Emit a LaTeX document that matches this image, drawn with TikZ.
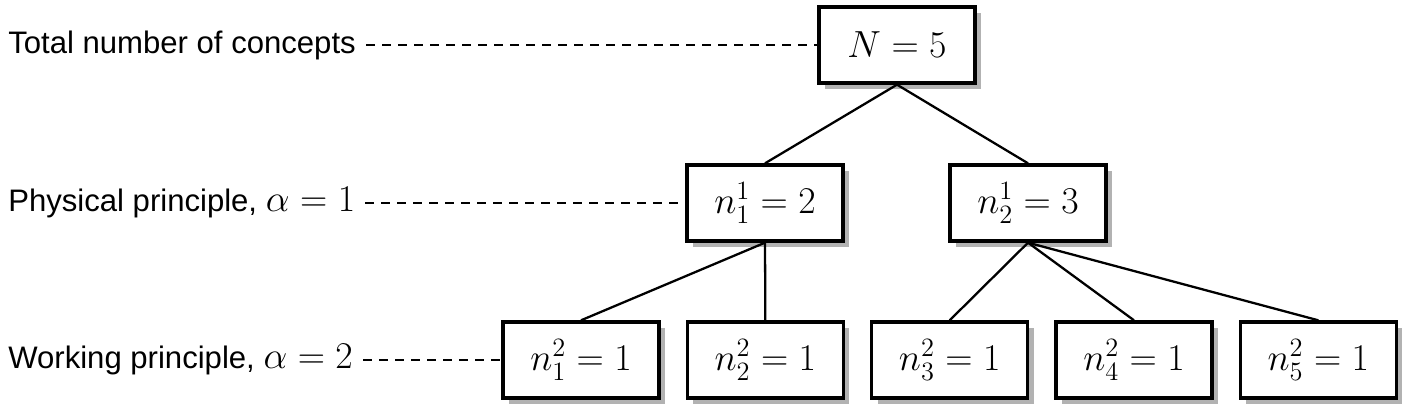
\documentclass[tikz,border=0pt]{standalone}
\usepackage{fix-cm}
\usepackage[no-math]{fontspec}
\setmainfont{Liberation Sans}[Scale=0.823]
\usetikzlibrary{positioning,shadows}

\begin{document}
\begin{tikzpicture}[
    font=\fontsize{21.5}{25}\selectfont,
    node distance=1.58cm and 0.5cm,
    box/.style={rectangle, draw=black, fill=white, line width=1.9pt, minimum width=3.12cm, minimum height=1.52cm, drop shadow={shadow xshift=0.12cm, shadow yshift=-0.12cm, fill=black!30, opacity=1}},
    level/.style={anchor=west, inner sep=0.2cm},
    guide/.style={draw=black, line width=1.1pt, dash pattern=on 0.18cm off 0.14cm},
    link/.style={draw=black, line width=1.3pt}
]
    \useasboundingbox (0,0) rectangle (28.18,8.32);

    \node [box] (total) at (17.94,7.42) {$N=5$};
    \node [box] (phys1) at (15.30,4.26) {$n_1^1=2$};
    \node [box] (phys2) at (20.56,4.26) {$n_2^1=3$};
    \node [box] (work1) at (11.62,1.12) {$n_1^2=1$};
    \node [box, right=of work1] (work2) {$n_2^2=1$};
    \node [box, right=of work2] (work3) {$n_3^2=1$};
    \node [box, right=of work3] (work4) {$n_4^2=1$};
    \node [box, right=of work4] (work5) {$n_5^2=1$};

    \node [level] (lvltotal) at (-0.04,7.42) {Total number of concepts};
    \node [level] (lvlphys) at (-0.04,4.26) {Physical principle, $\alpha=1$};
    \node [level] (lvlwork) at (-0.04,1.12) {Working principle, $\alpha=2$};

    \path [guide] (lvltotal.east) -- (total.west);
    \path [guide] (lvlphys.east) -- (phys1.west);
    \path [guide] (lvlwork.east) -- (work1.west);

    \path [link] (total.south) -- (phys1.north);
    \path [link] (total.south) -- (phys2.north);
    \path [link] (phys1.south) -- (work1.north);
    \path [link] (phys1.south) -- (work2.north);
    \path [link] (phys2.south) -- (work3.north);
    \path [link] (phys2.south) -- (work4.north);
    \path [link] (phys2.south) -- (work5.north);
\end{tikzpicture}
\end{document}
